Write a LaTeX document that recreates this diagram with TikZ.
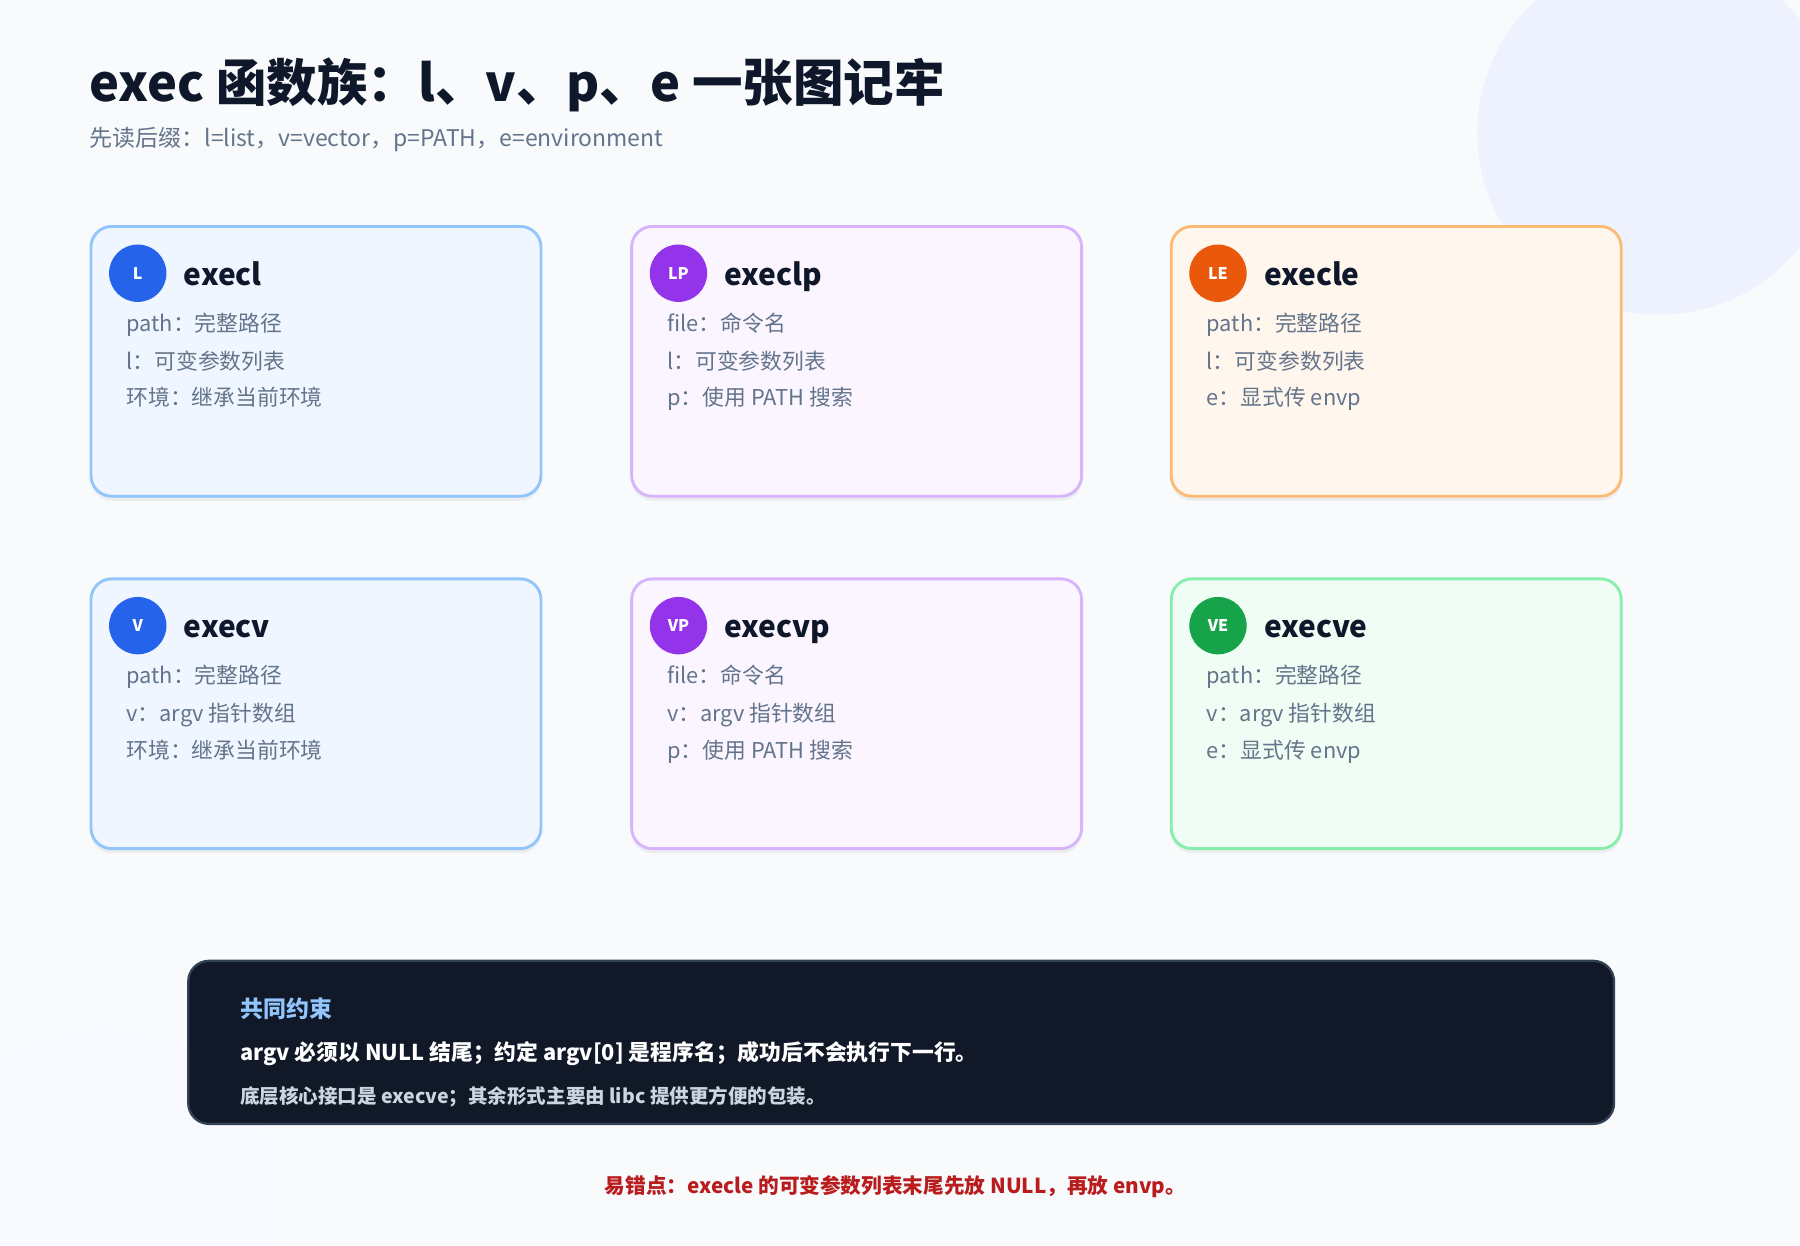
\documentclass[tikz,border=0pt]{standalone}
\usepackage{fontspec}
\setmainfont{Noto Sans CJK SC}
\usetikzlibrary{positioning,shadows}
\definecolor{bgpage}{HTML}{F8FAFC}
\definecolor{deco}{HTML}{EEF2FF}
\definecolor{ink}{HTML}{0F172A}
\definecolor{muted}{HTML}{64748B}
\definecolor{blfill}{HTML}{EFF6FF}\definecolor{bldraw}{HTML}{93C5FD}\definecolor{bldot}{HTML}{2563EB}
\definecolor{pufill}{HTML}{FAF5FF}\definecolor{pudraw}{HTML}{D8B4FE}\definecolor{pudot}{HTML}{9333EA}
\definecolor{orfill}{HTML}{FFF7ED}\definecolor{ordraw}{HTML}{FDBA74}\definecolor{ordot}{HTML}{EA580C}
\definecolor{grfill}{HTML}{F0FDF4}\definecolor{grdraw}{HTML}{86EFAC}\definecolor{grdot}{HTML}{16A34A}
\definecolor{navy}{HTML}{111827}
\definecolor{navyedge}{HTML}{334155}
\definecolor{noteblue}{HTML}{93C5FD}
\definecolor{notegray}{HTML}{CBD5E1}
\definecolor{warn}{HTML}{B91C1C}
\newcommand\fs[1]{\fontsize{#1}{#1}\selectfont}

\begin{document}
\begin{tikzpicture}[
        x=1pt, y=-1pt,
        card/.style = {
            draw=#1draw, fill=#1fill, line width=2.5pt,
            rounded corners=18pt, minimum width=392pt, minimum height=235pt,
            anchor=north west, inner sep=0pt,
            drop shadow={shadow xshift=0pt, shadow yshift=-4pt, opacity=.05, fill=black}},
        dot/.style = {circle, fill=#1dot, minimum size=50pt, inner sep=0pt,
            text=white, font=\fs{14}\bfseries},
        cardtitle/.style = {anchor=west, inner sep=0pt, text height=19pt, text depth=6pt,
            text=ink, font=\fs{26}\bfseries},
        item/.style = {anchor=west, inner sep=0pt, text height=14pt, text depth=5pt,
            text=muted, font=\fs{19}},
]
        \useasboundingbox (0,0) rectangle (1568,1085);
        \fill[bgpage] (0,0) rectangle (1568,1085);
        % decorative discs
        \begin{scope}
            \clip (0,0) rectangle (1568,1085);
            \fill[deco] (1445,116) circle (158);
            \fill[deco!45] (90,1050) circle (158);
        \end{scope}
        % heading
        \node[anchor=base west, inner sep=0pt, text=ink, font=\fs{44}\bfseries] (title) at (78,88)
            {exec 函数族：l、v、p、e 一张图记牢};
        \node[anchor=base west, inner sep=0pt, text=muted, font=\fs{20}] (subtitle) at (78,128)
            {先读后缀：l=list，v=vector，p=PATH，e=environment};
        % six cards
        \foreach \x/\y/\col/\tag/\name/\la/\lb/\lc in {
            78/196/bl/L/execl/{path：完整路径}/{l：可变参数列表}/{环境：继承当前环境},
            549/196/pu/LP/execlp/{file：命令名}/{l：可变参数列表}/{p：使用 PATH 搜索},
            1019/196/or/LE/execle/{path：完整路径}/{l：可变参数列表}/{e：显式传 envp},
            78/503/bl/V/execv/{path：完整路径}/{v：argv 指针数组}/{环境：继承当前环境},
            549/503/pu/VP/execvp/{file：命令名}/{v：argv 指针数组}/{p：使用 PATH 搜索},
            1019/503/gr/VE/execve/{path：完整路径}/{v：argv 指针数组}/{e：显式传 envp}}{
            \node[card=\col] (\name) at (\x,\y) {};
            \node[dot=\col] (\name-dot) at (\x+42,\y+42) {\tag};
            \node[cardtitle] (\name-title) at (\x+82,\y+46) {\name};
            \node[item] (\name-a) at (\x+32,\y+88) {\la};
            \node[item] (\name-b) at (\x+32,\y+121) {\lb};
            \node[item] (\name-c) at (\x+32,\y+153) {\lc};
        }
        % shared constraints panel
        \node[draw=navyedge, fill=navy, line width=2pt, rounded corners=18pt,
              minimum width=1242pt, minimum height=142pt, anchor=north west] (rules) at (163,836) {};
        \node[anchor=west, inner sep=0pt, text=noteblue, font=\fs{20}\bfseries] (rules-head) at (209,879) {共同约束};
        \node[anchor=west, inner sep=0pt, text=white, font=\fs{19}\bfseries] (rules-a) at (209,918)
            {argv 必须以 NULL 结尾；约定 argv[0] 是程序名；成功后不会执行下一行。};
        \node[anchor=west, inner sep=0pt, text=notegray, font=\fs{17}\bfseries] (rules-b) at (209,955)
            {底层核心接口是 execve；其余形式主要由 libc 提供更方便的包装。};
        % pitfall
        \node[inner sep=0pt, text=warn, font=\fs{18}\bfseries] (pitfall) at (780,1034)
            {易错点：execle 的可变参数列表末尾先放 NULL，再放 envp。};
\end{tikzpicture}
\end{document}
